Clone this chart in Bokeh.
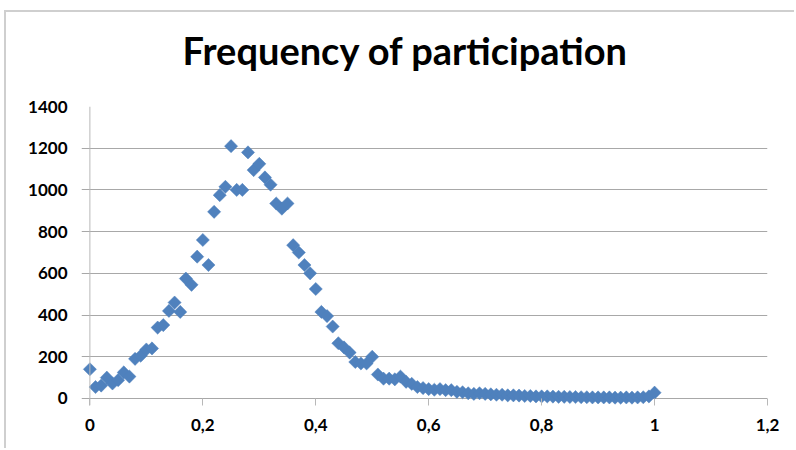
import numpy as np
from bokeh.plotting import figure
from bokeh.models import Range1d, FixedTicker, Span, Title
from bokeh.embed import file_html
from bokeh.resources import INLINE

# participation frequency (fraction) and number of users
frac = [0.00, 0.01, 0.02, 0.03, 0.04, 0.05, 0.06, 0.07, 0.08, 0.09,
        0.10, 0.11, 0.12, 0.13, 0.14, 0.15, 0.16, 0.17, 0.18, 0.19,
        0.20, 0.21, 0.22, 0.23, 0.24, 0.25, 0.26, 0.27, 0.28, 0.29,
        0.30, 0.31, 0.32, 0.33, 0.34, 0.35, 0.36, 0.37, 0.38, 0.39,
        0.40, 0.41, 0.42, 0.43, 0.44, 0.45, 0.46, 0.47, 0.48, 0.49,
        0.50, 0.51, 0.52, 0.53, 0.54, 0.55, 0.56, 0.57, 0.58, 0.59,
        0.60, 0.61, 0.62, 0.63, 0.64, 0.65, 0.66, 0.67, 0.68, 0.69,
        0.70, 0.71, 0.72, 0.73, 0.74, 0.75, 0.76, 0.77, 0.78, 0.79,
        0.80, 0.81, 0.82, 0.83, 0.84, 0.85, 0.86, 0.87, 0.88, 0.89,
        0.90, 0.91, 0.92, 0.93, 0.94, 0.95, 0.96, 0.97, 0.98, 0.99,
        1.00]
count = [140, 55, 62, 100, 72, 88, 125, 105, 190, 205,
         235, 240, 340, 352, 420, 460, 415, 575, 545, 680,
         760, 640, 895, 975, 1015, 1210, 1000, 1000, 1180, 1095,
         1125, 1060, 1025, 935, 910, 935, 735, 700, 640, 600,
         525, 415, 395, 345, 265, 245, 220, 175, 168, 168,
         200, 115, 95, 95, 92, 105, 80, 70, 55, 50,
         45, 42, 45, 40, 40, 32, 30, 25, 22, 25,
         22, 20, 18, 18, 15, 15, 14, 12, 12, 10,
         10, 10, 9, 8, 8, 7, 7, 6, 6, 5,
         5, 5, 5, 4, 4, 5, 4, 5, 6, 10,
         28]

x_ticks = [0, 0.2, 0.4, 0.6, 0.8, 1.0, 1.2]
x_tick_labels = ["0", "0,2", "0,4", "0,6", "0,8", "1", "1,2"]
y_ticks = [0, 200, 400, 600, 800, 1000, 1200, 1400]
title_text = "Frequency of participation"

p = figure(width=790, height=438, output_backend="svg", toolbar_location=None,
           x_range=Range1d(-0.01485, 1.2), y_range=Range1d(-33.6, 1400),
           min_border_left=75, min_border_right=29, min_border_top=94,
           min_border_bottom=45)
p.margin = (10, 0, 0, 4)
p.styles = {"border-left": "2px solid #cfcfcf", "border-top": "2px solid #cfcfcf"}
p.outline_line_color = None
p.background_fill_color = "white"
p.border_fill_color = "white"

# spacer between title and plot area, then the title itself
p.add_layout(Title(text=" ", text_font_size="1px", standoff=30), "above")
p.add_layout(Title(text=title_text, text_font="Lato", text_font_style="bold",
                   text_font_size="38px", text_color="black", align="left",
                   offset=101, standoff=2), "above")

p.xgrid.visible = False
p.ygrid.ticker = FixedTicker(ticks=y_ticks)
p.ygrid.grid_line_color = "#a8a8a8"
p.ygrid.grid_line_width = 1

# vertical axis line at x = 0
p.add_layout(Span(location=0, dimension="height", line_color="#b8b8b8", line_width=1))

for ax in (p.xaxis[0], p.yaxis[0]):
    ax.axis_line_color = None
    ax.major_tick_line_color = "#b8b8b8"
    ax.minor_tick_line_color = None
    ax.major_label_text_font = "Lato"
    ax.major_label_text_font_style = "bold"
    ax.major_label_text_font_size = "17px"
    ax.major_label_text_color = "black"

p.xaxis.ticker = FixedTicker(ticks=x_ticks)
p.xaxis.major_label_overrides = {t: l for t, l in zip(x_ticks, x_tick_labels)}
p.xaxis.major_tick_in = 7
p.xaxis.major_tick_out = 0
p.xaxis.major_label_standoff = 13
p.yaxis.ticker = FixedTicker(ticks=y_ticks)
p.yaxis.major_tick_in = 0
p.yaxis.major_tick_out = 0
p.yaxis.major_label_standoff = 14

p.scatter(frac, count, marker="square", angle=np.pi / 4, size=9.3,
          fill_color="#4F81BD", line_color="#4F81BD", line_width=0.5)

open("out.html", "w").write(file_html(p, INLINE))
